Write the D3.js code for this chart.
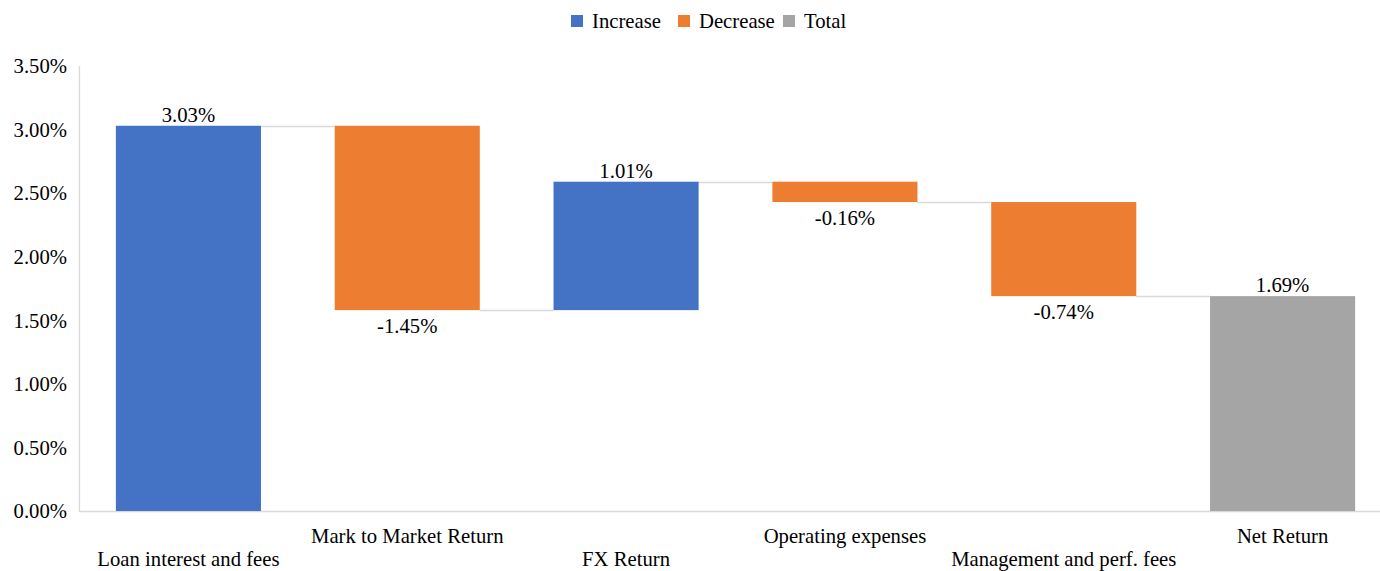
<!DOCTYPE html>
<html><head><meta charset="utf-8">
<script src="https://cdn.jsdelivr.net/npm/d3@7"></script>
<style>body{margin:0;background:#fff}svg{display:block}text{font-family:"Liberation Serif","Times New Roman",serif;fill:#000}</style>
</head><body><svg id="c" width="1380" height="571"></svg>
<script>
const categories = ["Loan interest and fees","Mark to Market Return","FX Return","Operating expenses","Management and perf. fees","Net Return"];
const values = [3.03, -1.45, 1.01, -0.16, -0.74, 1.69];
const kinds = ["Increase","Decrease","Increase","Decrease","Decrease","Total"];
const yTicks = [0,0.5,1,1.5,2,2.5,3,3.5];
const legendItems = ["Increase","Decrease","Total"];
const colors = {Increase:"#4472C4", Decrease:"#ED7D31", Total:"#A5A5A5"};
const FS = 20.7;

const svg = d3.select("#c");
const x = d3.scaleBand().domain(categories).range([79,1392]).paddingInner(0.337).paddingOuter(0.1685);
const y = d3.scaleLinear().domain([0,3.5]).range([511,66]);

let run = 0;
const bars = categories.map((c,i)=>{
  let start, end;
  if (kinds[i]==="Total"){ start=0; end=values[i]; run=values[i]; }
  else { start=run; end=run+values[i]; run=end; }
  return {c, v:values[i], k:kinds[i], start, end};
});

svg.append("g").selectAll("text").data(yTicks).join("text")
  .attr("x",67).attr("y",d=>y(d)).attr("dy","0.35em").attr("text-anchor","end")
  .attr("font-size",FS).text(d=>d.toFixed(2)+"%");
svg.append("line").attr("x1",79.5).attr("x2",79.5).attr("y1",y(3.5)).attr("y2",y(0)).attr("stroke","#d9d9d9").attr("stroke-width",1.3);
svg.append("line").attr("x1",79).attr("x2",1380).attr("y1",y(0)+0.5).attr("y2",y(0)+0.5).attr("stroke","#d9d9d9").attr("stroke-width",1.3);

for (let i=0;i<bars.length-1;i++){
  const lvl = bars[i].end;
  svg.append("line").attr("x1",x(bars[i].c)+x.bandwidth()).attr("x2",x(bars[i+1].c))
    .attr("y1",Math.round(y(lvl))+0.5).attr("y2",Math.round(y(lvl))+0.5).attr("stroke","#d9d9d9").attr("stroke-width",1.3);
}

svg.append("g").selectAll("rect").data(bars).join("rect")
  .attr("x",d=>x(d.c)).attr("width",x.bandwidth())
  .attr("y",d=>y(Math.max(d.start,d.end))).attr("height",d=>Math.abs(y(d.start)-y(d.end)))
  .attr("fill",d=>colors[d.k]);

svg.append("g").selectAll("text").data(bars).join("text")
  .attr("x",d=>x(d.c)+x.bandwidth()/2)
  .attr("y",d=>d.v>=0 ? y(Math.max(d.start,d.end))-4 : y(Math.min(d.start,d.end))+23)
  .attr("text-anchor","middle").attr("font-size",FS)
  .text(d=>d.v.toFixed(2)+"%");

svg.append("g").selectAll("text").data(categories).join("text")
  .attr("x",d=>x(d)+x.bandwidth()/2).attr("y",(d,i)=>i%2===0?566:543)
  .attr("text-anchor","middle").attr("font-size",FS).text(d=>d);

const lg = svg.append("g");
const lx = [571, 678, 783];
legendItems.forEach((k,i)=>{
  lg.append("rect").attr("x",lx[i]).attr("y",15).attr("width",12).attr("height",12).attr("fill",colors[k]);
  lg.append("text").attr("x",lx[i]+21).attr("y",21).attr("dy","0.35em").attr("font-size",FS).text(k);
});
</script></body></html>
